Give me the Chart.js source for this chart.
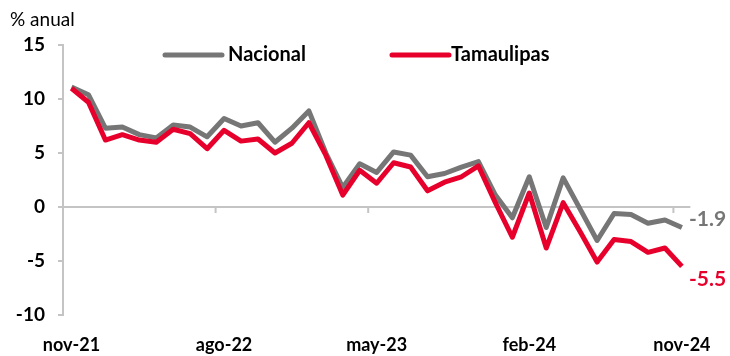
<!DOCTYPE html>
<html>
<head>
<meta charset="utf-8">
<script src="https://cdn.jsdelivr.net/npm/chart.js@4"></script>
<style>
  body { margin: 0; background: #fff; }
  #wrap { width: 730px; height: 356px; position: relative; }
</style>
</head>
<body>
<div id="wrap"><canvas id="empleo"></canvas></div>
<script>
const meses = [
    'nov-21', 'dic-21', 'ene-22', 'feb-22', 'mar-22', 'abr-22', 'may-22', 'jun-22', 'jul-22',
    'ago-22', 'sep-22', 'oct-22', 'nov-22', 'dic-22', 'ene-23', 'feb-23', 'mar-23', 'abr-23',
    'may-23', 'jun-23', 'jul-23', 'ago-23', 'sep-23', 'oct-23', 'nov-23', 'dic-23', 'ene-24',
    'feb-24', 'mar-24', 'abr-24', 'may-24', 'jun-24', 'jul-24', 'ago-24', 'sep-24', 'oct-24',
    'nov-24'
]

const nacional = [
    11.1, 10.4, 7.3, 7.4, 6.7, 6.4, 7.6, 7.4, 6.5, 8.2, 7.5, 7.8, 6.0, 7.3, 8.9, 5.0, 1.8, 4.0,
    3.2, 5.1, 4.8, 2.8, 3.1, 3.7, 4.2, 1.1, -1.0, 2.8, -1.9, 2.7, -0.2, -3.1, -0.6, -0.7, -1.5,
    -1.2, -1.9
]

const tamaulipas = [
    11.0, 9.7, 6.2, 6.7, 6.2, 6.0, 7.2, 6.8, 5.4, 7.1, 6.1, 6.3, 5.0, 5.9, 7.8, 4.8, 1.1, 3.4,
    2.2, 4.1, 3.7, 1.5, 2.3, 2.8, 3.8, 0.4, -2.8, 1.3, -3.8, 0.4, -2.3, -5.1, -3.0, -3.2, -4.2,
    -3.8, -5.5
]

const yTicks = [-10, -5, 0, 5, 10, 15]

const GRIS = '#767676'
const ROJO = '#e8002d'
const EJE = '#c4c4c4'
const FUENTE = 'Lato, "Open Sans", sans-serif'

// extra text: unit label, legend, last values, small ticks on the zero line
const extras = {
    id: 'extras',
    beforeDatasetsDraw(chart) {
        const ctx = chart.ctx
        const x = chart.scales.x
        const y = chart.scales.y
        const y0 = y.getPixelForValue(0)
        ctx.save()
        ctx.strokeStyle = EJE
        ctx.lineWidth = 2
        for (let i = 9; i < meses.length; i += 9) {
            const px = (x.getPixelForValue(i - 1) + x.getPixelForValue(i)) / 2
            ctx.beginPath()
            ctx.moveTo(px, y0)
            ctx.lineTo(px, y0 + 6)
            ctx.stroke()
        }
        ctx.restore()
    },
    afterDatasetsDraw(chart) {
        const ctx = chart.ctx
        ctx.save()

        ctx.fillStyle = '#000'
        ctx.font = '19px ' + FUENTE
        ctx.textBaseline = 'middle'
        ctx.textAlign = 'left'
        ctx.fillText('% anual', 10, 20)

        // legend
        const pos = [165, 392]
        chart.data.datasets.forEach((ds, i) => {
            const lx = pos[i]
            ctx.strokeStyle = ds.borderColor
            ctx.lineWidth = 5
            ctx.lineCap = 'round'
            ctx.beginPath()
            ctx.moveTo(lx, 55)
            ctx.lineTo(lx + 57, 55)
            ctx.stroke()
            ctx.fillStyle = '#000'
            ctx.font = 'bold 20px ' + FUENTE
            ctx.fillText(ds.label, i === 0 ? 228 : 451, 55)
        })

        // last value of each series
        chart.data.datasets.forEach((ds, i) => {
            const meta = chart.getDatasetMeta(i)
            const pt = meta.data[meta.data.length - 1]
            const v = ds.data[ds.data.length - 1]
            ctx.fillStyle = ds.borderColor
            ctx.font = 'bold 21px ' + FUENTE
            ctx.fillText(v.toFixed(1), pt.x + 7, pt.y + ds.labelOffset)
        })
        ctx.restore()
    }
}

const chart = new Chart(document.getElementById('empleo'), {
    type: 'line',
    data: {
        labels: meses,
        datasets: [{
            label: 'Nacional',
            data: nacional,
            borderColor: GRIS,
            borderWidth: 5,
            pointRadius: 0,
            tension: 0,
            borderJoinStyle: 'round',
            order: 1,
            labelOffset: -8
        }, {
            label: 'Tamaulipas',
            data: tamaulipas,
            borderColor: ROJO,
            borderWidth: 5,
            pointRadius: 0,
            tension: 0,
            borderJoinStyle: 'round',
            order: 0,
            labelOffset: 13
        }]
    },
    options: {
        responsive: true,
        maintainAspectRatio: false,
        devicePixelRatio: 1,
        animation: false,
        layout: { padding: { left: 0, top: 45, right: 34, bottom: 0 } },
        plugins: {
            legend: { display: false },
            tooltip: { enabled: false }
        },
        scales: {
            x: {
                offset: true,
                grid: { display: false, drawTicks: false },
                border: { display: false },
                ticks: {
                    autoSkip: false,
                    maxRotation: 0,
                    padding: 19,
                    color: '#000',
                    font: { family: FUENTE, size: 18, weight: 'bold' },
                    callback: (v, i) => i % 9 === 0 ? meses[i] : ''
                },
                afterFit: s => { s.height = 41 }
            },
            y: {
                min: yTicks[0],
                max: yTicks[yTicks.length - 1],
                afterBuildTicks: s => { s.ticks = yTicks.map(v => ({ value: v })) },
                grid: {
                    color: c => c.tick && c.tick.value === 0 ? EJE : 'rgba(0,0,0,0)',
                    tickColor: EJE,
                    tickLength: 5,
                    lineWidth: 2
                },
                border: { color: EJE, width: 2 },
                ticks: {
                    padding: 13,
                    color: '#000',
                    font: { family: FUENTE, size: 19, weight: 'bold' }
                },
                afterFit: s => { s.width = 63 }
            }
        }
    },
    plugins: [extras]
})
</script>
</body>
</html>
